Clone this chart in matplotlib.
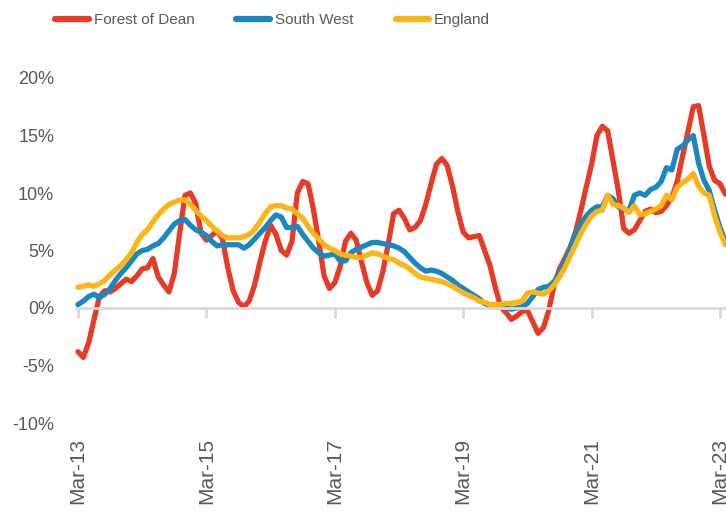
import matplotlib
matplotlib.use('Agg')
import matplotlib.pyplot as plt
import numpy as np

# monthly growth, Mar-13 .. Apr-23 (%)
forest_of_dean = [-3.8, -4.3, -3.0, -1.0, 1.0, 1.5, 1.4, 1.7, 2.1, 2.5,
                  2.3, 2.8, 3.4, 3.5, 4.3, 2.7, 2.0, 1.4, 3.0, 6.5,
                  9.8, 10.0, 9.1, 6.5, 5.9, 6.3, 6.7, 6.0, 3.5, 1.5,
                  0.5, 0.1, 0.6, 2.0, 4.0, 5.8, 7.2, 6.4, 5.0, 4.6,
                  5.8, 10.0, 11.0, 10.8, 8.6, 5.8, 2.8, 1.7, 2.2, 3.6,
                  5.8, 6.5, 5.9, 4.0, 2.2, 1.1, 1.5, 3.2, 5.6, 8.2,
                  8.5, 7.8, 6.8, 7.0, 7.6, 9.0, 10.8, 12.5, 13.0, 12.4,
                  10.6, 8.4, 6.6, 6.1, 6.2, 6.3, 5.0, 3.7, 1.8, 0.1,
                  -0.4, -1.0, -0.7, -0.3, -0.2, -1.2, -2.2, -1.7, -0.2, 2.0,
                  3.4, 4.3, 5.3, 6.6, 8.5, 10.5, 12.5, 15.0, 15.8, 15.4,
                  12.8, 10.2, 6.9, 6.5, 6.8, 7.6, 8.4, 8.6, 8.3, 8.4,
                  8.9, 9.6, 11.0, 13.2, 15.3, 17.5, 17.6, 15.0, 12.3, 11.1,
                  10.8, 9.9]

south_west = [0.3, 0.6, 1.0, 1.2, 0.9, 1.2, 1.7, 2.4, 3.0, 3.5,
              4.1, 4.7, 5.0, 5.1, 5.4, 5.6, 6.1, 6.7, 7.3, 7.6,
              7.7, 7.2, 6.8, 6.6, 6.3, 5.8, 5.4, 5.5, 5.5, 5.5,
              5.5, 5.2, 5.5, 6.0, 6.5, 7.0, 7.6, 8.1, 7.9, 7.0,
              7.0, 7.1, 6.4, 5.8, 5.2, 4.8, 4.5, 4.6, 4.7, 4.1,
              4.1, 4.8, 5.1, 5.3, 5.5, 5.7, 5.7, 5.6, 5.5, 5.4,
              5.2, 4.9, 4.4, 3.9, 3.5, 3.2, 3.3, 3.2, 3.0, 2.7,
              2.4, 2.0, 1.7, 1.4, 1.1, 0.8, 0.4, 0.2, 0.1, 0.1,
              0.0, -0.1, 0.0, 0.1, 0.4, 1.0, 1.6, 1.8, 1.9, 2.3,
              3.0, 4.0, 5.2, 6.4, 7.3, 8.0, 8.5, 8.8, 8.8, 9.8,
              9.5, 8.8, 8.6, 8.5, 9.8, 10.0, 9.8, 10.3, 10.5, 11.0,
              12.2, 12.0, 13.8, 14.1, 14.6, 15.0, 12.6, 11.1, 10.2, 8.5,
              7.0, 5.8]

england = [1.8, 1.9, 2.0, 1.9, 2.1, 2.4, 2.9, 3.3, 3.7, 4.2,
           4.8, 5.7, 6.4, 6.8, 7.5, 8.1, 8.6, 9.0, 9.2, 9.4,
           9.4, 9.0, 8.5, 8.0, 7.6, 7.1, 6.7, 6.3, 6.1, 6.1,
           6.1, 6.2, 6.4, 6.8, 7.5, 8.2, 8.8, 8.9, 8.9, 8.7,
           8.6, 8.2, 7.8, 7.1, 6.5, 6.0, 5.5, 5.2, 5.0, 4.7,
           4.6, 4.5, 4.4, 4.4, 4.6, 4.8, 4.7, 4.5, 4.3, 4.2,
           3.9, 3.7, 3.4, 3.0, 2.7, 2.6, 2.5, 2.4, 2.3, 2.1,
           1.9, 1.6, 1.3, 1.1, 0.9, 0.6, 0.5, 0.3, 0.3, 0.3,
           0.4, 0.4, 0.5, 0.6, 1.3, 1.4, 1.3, 1.2, 1.5, 2.0,
           2.7, 3.5, 4.5, 5.5, 6.5, 7.3, 8.0, 8.4, 8.5, 9.8,
           9.0, 8.9, 8.7, 8.3, 8.9, 8.1, 8.2, 8.4, 8.6, 8.9,
           9.8, 9.4, 10.5, 10.9, 11.2, 11.7, 10.6, 10.0, 9.8, 8.0,
           6.6, 5.5]

tick_months = [0, 24, 48, 72, 96, 120]
tick_labels = ['Mar-13', 'Mar-15', 'Mar-17', 'Mar-19', 'Mar-21', 'Mar-23']
y_ticks = [-10, -5, 0, 5, 10, 15, 20]

plt.rcParams['font.family'] = ['Liberation Sans', 'DejaVu Sans']
grey = '#595959'

W, H = 726, 513
fig = plt.figure(figsize=(W / 100, H / 100), dpi=100)
x0, x1 = -0.3, 122.5
px_month = 5.35
left = 78 - (0 - x0) * px_month
ax = fig.add_axes([left / W, 1 - 423 / H, (x1 - x0) * px_month / W, (423 - 78) / H])

x = np.arange(len(forest_of_dean))
ax.plot(x, forest_of_dean, color='#E63B27', lw=3.8, label='Forest of Dean',
        solid_joinstyle='round', solid_capstyle='round', clip_on=False)
ax.plot(x, south_west, color='#1A87C2', lw=3.8, label='South West',
        solid_joinstyle='round', solid_capstyle='round', clip_on=False)
ax.plot(x, england, color='#FDB515', lw=3.8, label='England',
        solid_joinstyle='round', solid_capstyle='round', clip_on=False)

ax.set_xlim(x0, x1)
ax.set_ylim(-10, 20)
ax.set_yticks(y_ticks)
ax.set_yticklabels([f'{v}%' for v in y_ticks])
ax.tick_params(axis='y', length=0, labelsize=13, labelcolor=grey, pad=16)

for s in ['top', 'right', 'left']:
    ax.spines[s].set_visible(False)
ax.spines['bottom'].set_position(('data', 0))
ax.spines['bottom'].set_color('#D9D9D9')
ax.spines['bottom'].set_linewidth(2)
ax.set_xticks(tick_months)
ax.tick_params(axis='x', length=7, width=2, color='#D9D9D9', labelbottom=False)

sec = ax.secondary_xaxis('bottom')
sec.set_xticks(tick_months)
sec.set_xticklabels(tick_labels, rotation=90)
sec.tick_params(length=0, labelsize=15, labelcolor=grey, pad=11)
sec.spines['bottom'].set_visible(False)

leg = fig.legend(loc='center left', bbox_to_anchor=(55 / W, 1 - 20 / H), ncol=3, frameon=False,
                 fontsize=11, handlelength=2.2, handletextpad=0.33, columnspacing=2.75,
                 borderpad=0, borderaxespad=0)
for t in leg.get_texts():
    t.set_color(grey)
for h in leg.legend_handles:
    h.set_linewidth(4.5)
    h.set_solid_capstyle('round')

fig.savefig('out.png', dpi=100)
